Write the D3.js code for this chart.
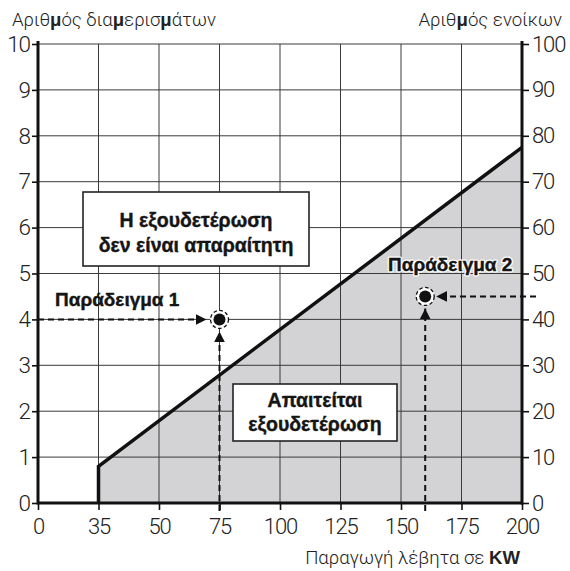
<!DOCTYPE html>
<html>
<head>
<meta charset="utf-8">
<script src="https://cdn.jsdelivr.net/npm/d3@7"></script>
<style>
  html, body { margin: 0; padding: 0; background: #fff; }
  svg { display: block; }
</style>
</head>
<body>
<svg id="chart" width="570" height="571"></svg>
<script>
// Boiler output (kW) on a stepped axis, apartments left, occupants right
const kwTicks = [0, 35, 50, 75, 100, 125, 150, 175, 200];
const apartmentTicks = [0, 1, 2, 3, 4, 5, 6, 7, 8, 9, 10];
const occupantTicks = [0, 10, 20, 30, 40, 50, 60, 70, 80, 90, 100];

// Limit line: below it neutralisation is required
const limitLine = [[35, 0], [35, 0.8], [200, 7.75]];
const shadedArea = [[35, 0], [35, 0.8], [200, 7.75], [200, 0]];

// Worked examples
const exampleNames = ["Παράδειγμα 1", "Παράδειγμα 2"];
const exampleKW = [75, 160];
const exampleUnits = [4, 4.5];

const svg = d3.select("#chart");
const plotLeft = 38, plotRight = 522, plotTop = 44, plotBottom = 503;

const step = (plotRight - plotLeft) / (kwTicks.length - 1);
const x = d3.scaleLinear()
  .domain(kwTicks)
  .range(kwTicks.map((d, i) => plotLeft + i * step));
const y = d3.scaleLinear().domain([0, 10]).range([plotBottom, plotTop]);
const y2 = d3.scaleLinear().domain([0, 100]).range([plotBottom, plotTop]);

const tickFont = "'Roboto', 'Liberation Sans', sans-serif";
const boldFont = "'Liberation Sans', 'Arial', sans-serif";

// shaded region
svg.append("path")
  .datum(shadedArea)
  .attr("d", d3.line().x(d => x(d[0])).y(d => y(d[1])))
  .attr("fill", "#d3d3d5");

// grid
const grid = svg.append("g").attr("stroke", "#3a3a3a").attr("stroke-width", 1);
grid.selectAll("line.v").data(kwTicks.slice(1, -1)).join("line")
  .attr("class", "v")
  .attr("x1", d => x(d)).attr("x2", d => x(d))
  .attr("y1", plotTop).attr("y2", plotBottom);
grid.selectAll("line.h").data(apartmentTicks.slice(1)).join("line")
  .attr("class", "h")
  .attr("x1", plotLeft).attr("x2", plotRight)
  .attr("y1", d => y(d)).attr("y2", d => y(d));

// axes
const axisStyle = (size) => g => {
  g.select(".domain").remove();
  g.selectAll(".tick line").attr("stroke", "#111").attr("stroke-width", 1.6);
  g.selectAll(".tick text")
    .attr("font-family", tickFont).attr("font-weight", 300)
    .attr("font-size", size).attr("letter-spacing", -1.1).attr("fill", "#222");
};

svg.append("g").attr("transform", `translate(${plotLeft},0)`)
  .call(d3.axisLeft(y).tickValues(apartmentTicks).tickSize(6).tickPadding(2).tickFormat(d3.format("d")))
  .call(axisStyle(22.5));
svg.append("g").attr("transform", `translate(${plotRight},0)`)
  .call(d3.axisRight(y2).tickValues(occupantTicks).tickSize(7).tickPadding(3).tickFormat(d3.format("d")))
  .call(axisStyle(22));
svg.append("g").attr("transform", `translate(0,${plotBottom})`)
  .call(d3.axisBottom(x).tickValues(kwTicks).tickSize(7).tickPadding(8).tickFormat(d3.format("d")))
  .call(axisStyle(22));

// thick frame lines
const frame = svg.append("g").attr("stroke", "#111").attr("stroke-width", 3);
frame.append("line").attr("x1", plotLeft).attr("x2", plotLeft).attr("y1", plotTop - 3).attr("y2", plotBottom + 1.5);
frame.append("line").attr("x1", plotRight).attr("x2", plotRight).attr("y1", plotTop - 3).attr("y2", plotBottom + 1.5);
frame.append("line").attr("x1", plotLeft).attr("x2", plotRight).attr("y1", plotBottom).attr("y2", plotBottom);

// limit line
svg.append("path")
  .datum(limitLine)
  .attr("d", d3.line().x(d => x(d[0])).y(d => y(d[1])))
  .attr("fill", "none").attr("stroke", "#111").attr("stroke-width", 3.5)
  .attr("stroke-linejoin", "miter");

// arrowhead
svg.append("defs").append("marker")
  .attr("id", "arrow").attr("viewBox", "0 0 10 10")
  .attr("refX", 10).attr("refY", 5)
  .attr("markerWidth", 5.5).attr("markerHeight", 5.5)
  .attr("markerUnits", "strokeWidth")
  .attr("orient", "auto")
  .append("path").attr("d", "M0,0 L10,5 L0,10 Z").attr("fill", "#111");

const applyDash = sel => sel.attr("stroke", "#111").attr("stroke-width", 2).attr("stroke-dasharray", "6,4");

const ringR = 9;
exampleKW.forEach((kw, i) => {
  const cx = x(kw), cy = y(exampleUnits[i]);
  // horizontal guide: example 1 from left axis, example 2 from beyond right axis
  if (i === 0) {
    svg.append("line").attr("x1", plotLeft).attr("x2", cx - ringR - 4)
      .attr("y1", cy).attr("y2", cy).call(applyDash).attr("marker-end", "url(#arrow)");
  } else {
    svg.append("line").attr("x1", plotRight + 14).attr("x2", cx + ringR + 2)
      .attr("y1", cy).attr("y2", cy).call(applyDash).attr("marker-end", "url(#arrow)");
  }
  // vertical guide from below the kW axis
  svg.append("line").attr("x1", cx).attr("x2", cx)
    .attr("y1", plotBottom + 8).attr("y2", cy + ringR + 3)
    .call(applyDash).attr("marker-end", "url(#arrow)");
  svg.append("circle").attr("cx", cx).attr("cy", cy).attr("r", ringR)
    .attr("fill", "#fff").attr("stroke", "#111").attr("stroke-width", 1.3)
    .attr("stroke-dasharray", "3.5,2.5");
  svg.append("circle").attr("cx", cx).attr("cy", cy).attr("r", 6).attr("fill", "#111");
});

// example labels
svg.append("text").attr("x", 55).attr("y", 306)
  .attr("font-family", boldFont).attr("font-weight", 700).attr("font-size", 19)
  .attr("fill", "#151515").attr("stroke", "#151515").attr("stroke-width", 0.4)
  .text(exampleNames[0]);
svg.append("text").attr("x", 388).attr("y", 271)
  .attr("font-family", boldFont).attr("font-weight", 700).attr("font-size", 19)
  .attr("fill", "none").attr("stroke", "#fff").attr("stroke-width", 3)
  .attr("stroke-linejoin", "round").text(exampleNames[1]);
svg.append("text").attr("x", 388).attr("y", 271)
  .attr("font-family", boldFont).attr("font-weight", 700).attr("font-size", 19)
  .attr("fill", "#151515").attr("stroke", "#151515").attr("stroke-width", 0.4)
  .text(exampleNames[1]);

// region boxes
function regionBox(x0, y0, w, h, lines, baselines) {
  svg.append("rect").attr("x", x0).attr("y", y0).attr("width", w).attr("height", h)
    .attr("fill", "#fff").attr("stroke", "#222").attr("stroke-width", 1.6);
  lines.forEach((t, k) => {
    svg.append("text").attr("x", x0 + w / 2).attr("y", baselines[k])
      .attr("text-anchor", "middle")
      .attr("font-family", boldFont).attr("font-weight", 700).attr("font-size", 19.5)
      .attr("fill", "#151515").attr("stroke", "#151515").attr("stroke-width", 0.4)
      .text(t);
  });
}
regionBox(83, 192, 226, 74, ["Η εξουδετέρωση", "δεν είναι απαραίτητη"], [227, 252]);
regionBox(233, 384, 164, 57, ["Απαιτείται", "εξουδετέρωση"], [407, 431]);

// axis titles (the μ glyphs are set in bold)
function richTitle(tx, ty, parts, anchor) {
  const t = svg.append("text").attr("x", tx).attr("y", ty)
    .attr("text-anchor", anchor)
    .attr("font-family", tickFont).attr("font-weight", 300)
    .attr("font-size", 18.6).attr("fill", "#222");
  parts.forEach(([s, b]) => {
    t.append("tspan").attr("font-weight", b ? 700 : 300)
      .attr("font-family", b ? boldFont : tickFont).text(s);
  });
}
richTitle(12, 26, [["Αριθ", 0], ["μ", 1], ["ός δια", 0], ["μ", 1], ["ερισ", 0], ["μ", 1], ["άτων", 0]], "start");
richTitle(562, 26, [["Αριθ", 0], ["μ", 1], ["ός ενοίκων", 0]], "end");
richTitle(520, 564, [["Παραγωγή λέβητα σε ", 0], ["KW", 1]], "end");
</script>
</body>
</html>
